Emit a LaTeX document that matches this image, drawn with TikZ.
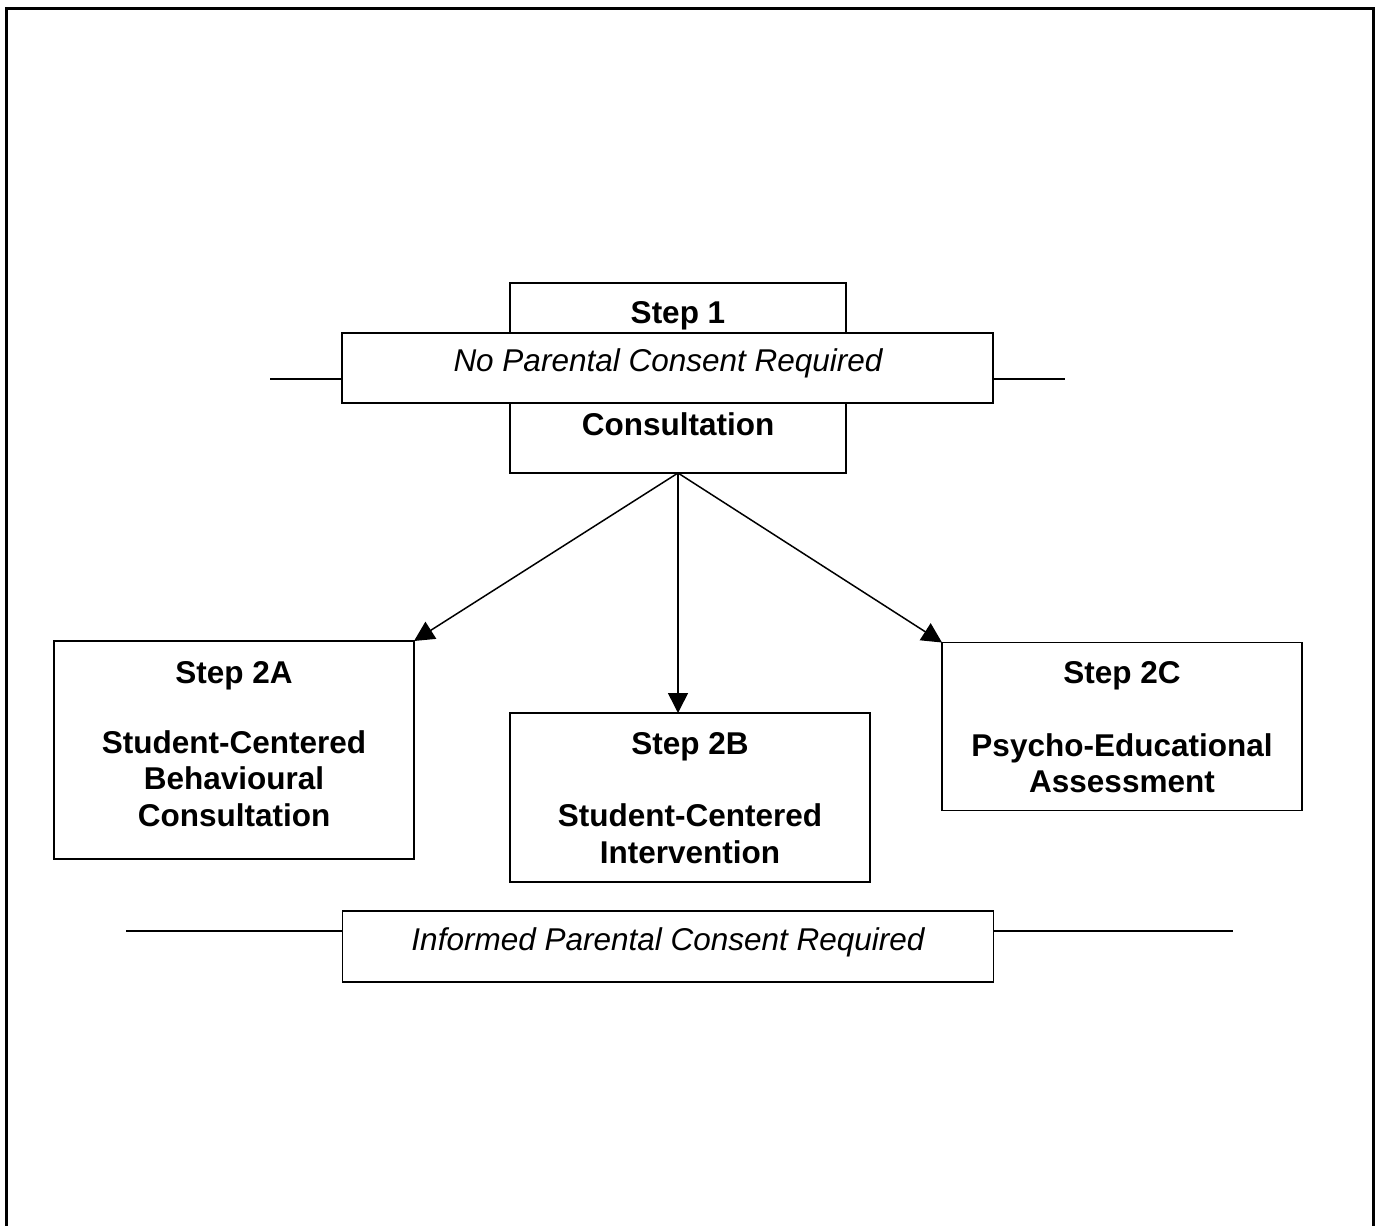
\documentclass[tikz,border=0pt]{standalone}
\usepackage{fontspec}
\setmainfont{Liberation Sans}
\usetikzlibrary{arrows.meta}
\begin{document}
\begin{tikzpicture}[x=0.5pt,y=-0.5pt,
  boxshape/.style={draw,line width=0.9pt,fill=white,inner sep=0pt,outer sep=0pt},
  steptext/.style={font=\fontsize{15.75}{18.25}\selectfont\bfseries,anchor=base,inner sep=0pt},
  consenttext/.style={font=\fontsize{15.75}{18.25}\selectfont\itshape,anchor=base,inner sep=0pt},
  conn/.style={line width=0.75pt,-{Triangle[length=10pt,width=10pt]}},
  sideline/.style={line width=0.9pt},
  frameline/.style={line width=1.5pt}]
\useasboundingbox (0,0) rectangle (1376,1226);
\draw[frameline] (6,1240) -- (6,8) -- (1373.5,8) -- (1373.5,1240);

% Step 1 box
\node[boxshape,minimum width=168pt,minimum height=95pt] (s1) at (678,378) {};
\node[steptext] (s1a) at (678,323) {Step 1};
\node[steptext] (s1b) at (678,435) {Consultation};

% No parental consent band
\coordinate (npl) at (270,379);
\coordinate (npr) at (1065,379);
\node[boxshape,minimum width=325.5pt,minimum height=35pt] (np) at (667.5,368) {};
\node[consenttext] (npt) at (668,371) {No Parental Consent Required};
\draw[sideline] (npl) -- (np.west |- npl);
\draw[sideline] (np.east |- npr) -- (npr);

% Step 2 boxes
\node[boxshape,minimum width=180pt,minimum height=109pt] (s2a) at (234,750) {};
\node[steptext] (s2a1) at (234,683) {Step 2A};
\node[steptext] (s2a2) at (234,753) {Student-Centered};
\node[steptext] (s2a3) at (234,789.5) {Behavioural};
\node[steptext] (s2a4) at (234,826) {Consultation};

\node[boxshape,minimum width=180pt,minimum height=84.5pt] (s2b) at (690,797.5) {};
\node[steptext] (s2b1) at (690,754) {Step 2B};
\node[steptext] (s2b2) at (690,826) {Student-Centered};
\node[steptext] (s2b3) at (690,863) {Intervention};

\node[boxshape,minimum width=180pt,minimum height=84pt] (s2c) at (1122,726.5) {};
\node[steptext] (s2c1) at (1122,683) {Step 2C};
\node[steptext] (s2c2) at (1122,756) {Psycho-Educational};
\node[steptext] (s2c3) at (1122,792) {Assessment};

% Arrows
\draw[conn] (s1.south) -- (s2a.north east);
\draw[conn] (s1.south) -- (s1.south |- s2b.north);
\draw[conn] (s1.south) -- (s2c.north west);

% Informed consent band
\coordinate (ipl) at (126,931);
\coordinate (ipr) at (1233,931);
\node[boxshape,minimum width=325.5pt,minimum height=35.5pt] (ip) at (668,946.5) {};
\node[consenttext] (ipt) at (668,950) {Informed Parental Consent Required};
\draw[sideline] (ipl) -- (ip.west |- ipl);
\draw[sideline] (ip.east |- ipr) -- (ipr);
\end{tikzpicture}
\end{document}
